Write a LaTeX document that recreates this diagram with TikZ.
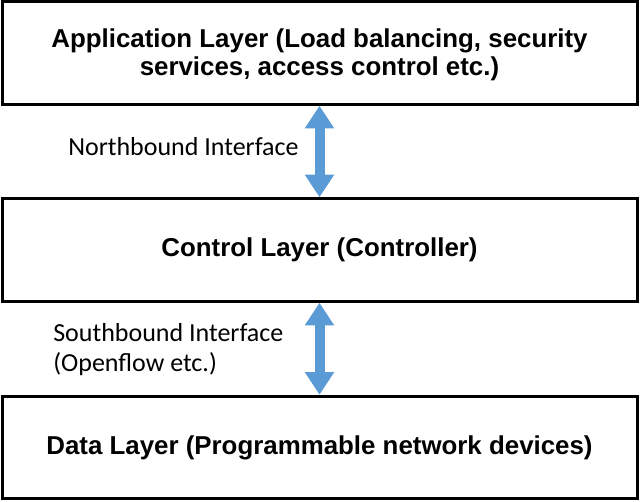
\documentclass[tikz,border=0pt]{standalone}
\usepackage{fontspec}
\setmainfont{Liberation Sans}
\newfontfamily\labelfont{Carlito}
\usetikzlibrary{arrows.meta}
\definecolor{arrowblue}{HTML}{5B9BD5}
\tikzset{
  layerbox/.style={draw=black, line width=2.25pt, fill=white, minimum width=476.25pt, minimum height=76.9pt, inner sep=0pt, align=center, font=\fontsize{19.4}{21}\selectfont\bfseries},
  iflabel/.style={inner sep=0pt, align=left, font=\labelfont\fontsize{19.5}{22.5}\selectfont},
  bigarrow/.style={draw=arrowblue, line width=7.5pt, {Triangle[width=21pt,length=17pt]}-{Triangle[width=21pt,length=17pt]}}
}
\begin{document}
\begin{tikzpicture}[x=0.75pt,y=-0.75pt]
\useasboundingbox (0,0) rectangle (640,501);
\node[layerbox, text depth=2pt] (app) at (319.5,53) {Application Layer (Load balancing, security\\services, access control etc.)};
\node[layerbox] (ctrl) at (319.5,250) {Control Layer (Controller)};
\node[layerbox] (data) at (319.5,447.5) {Data Layer (Programmable network devices)};
\node[iflabel, anchor=base west] (nb) at (68,155) {Northbound Interface};
\node[iflabel, anchor=north west] (sb) at (53,323) {Southbound Interface\\(Openflow etc.)};
\draw[bigarrow] (app.south -| 319.5,0) -- (ctrl.north -| 319.5,0);
\draw[bigarrow] (ctrl.south -| 319.5,0) -- (data.north -| 319.5,0);
\end{tikzpicture}
\end{document}
